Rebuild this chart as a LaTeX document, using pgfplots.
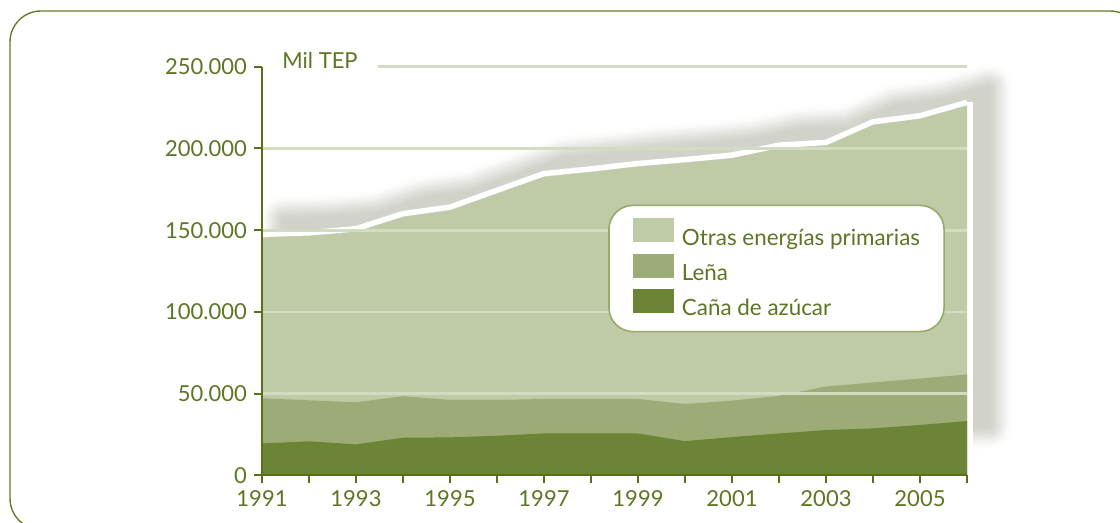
\documentclass[border=0pt]{standalone}
\usepackage{fontspec}
\setmainfont{Lato}
\usepackage{pgfplots}
\pgfplotsset{compat=1.18}
\usepackage{pgfplotstable}

\definecolor{darkc}{RGB}{107,132,54}
\definecolor{midc}{RGB}{157,172,118}
\definecolor{lightc}{RGB}{191,202,166}
\definecolor{gridc}{RGB}{210,220,192}
\definecolor{axisc}{RGB}{88,112,24}
\definecolor{textc}{RGB}{92,118,36}
\definecolor{framec}{RGB}{100,125,40}
\definecolor{legc}{RGB}{150,170,105}
\definecolor{shadowcore}{RGB}{209,211,203}

\pgfplotstableread{
year cana lena otras
1991 19600 27600 98400
1992 20900 25100 100400
1993 19000 25800 104100
1994 23100 25400 109600
1995 23300 22900 115900
1996 24300 21900 126200
1997 25700 21100 135800
1998 25700 21100 138700
1999 25700 21100 142000
2000 21000 22700 147500
2001 23500 22300 148100
2002 25700 23000 151300
2003 27800 26600 147300
2004 28800 28100 157400
2005 30900 28400 158700
2006 33300 28500 164400
}\datatable

% one layer of the soft shadow: #1 = stroke width (pt), #2 = percent of shadow colour
\newcommand{\shadowlayer}[2]{%
  \addplot[forget plot, fill=shadowcore!#2!white, draw=shadowcore!#2!white,
    line width=#1pt, line join=round, xshift=11pt, yshift=9pt]
    table[x=year, y expr=\thisrow{cana}+\thisrow{lena}+\thisrow{otras}] {\datatable}
    -- (axis cs:2006,19500) -- (axis cs:1991,19500) -- cycle;
}

\begin{document}
\begin{tikzpicture}
\useasboundingbox (0,0) rectangle (560pt,261.5pt);
\draw[framec, line width=0.7pt, rounded corners=15.5pt] (5pt,256pt) rectangle (570.5pt,-3.25pt);
\begin{axis}[
  at={(131pt,23.75pt)}, anchor=south west,
  scale only axis, width=352.5pt, height=204.4pt,
  xmin=1991, xmax=2006, ymin=0, ymax=250000,
  clip=false,
  axis on top,
  axis x line*=bottom, axis y line*=left,
  axis line style={-, axisc, line width=1pt},
  tick align=outside, tick pos=left,
  major tick length=4pt,
  every tick/.style={axisc, line width=1pt},
  xtick={1991,1992,1993,1994,1995,1996,1997,1998,1999,2000,2001,2002,2003,2004,2005,2006},
  xticklabels={1991,,1993,,1995,,1997,,1999,,2001,,2003,,2005,},
  ytick={50000,100000,150000,200000},
  extra y ticks={0,250000},
  extra y tick style={grid=none},
  ymajorgrids,
  major grid style={gridc, line width=1.3pt},
  scaled y ticks=false,
  ticklabel style={font=\fontsize{11}{13}\selectfont, text=textc},
  /pgf/number format/fixed,
  /pgf/number format/1000 sep={.},
  /pgf/number format/assume math mode=true,
  legend style={
    at={(0.491,0.6626)}, anchor=north west,
    draw=legc, line width=0.8pt, fill=white, rounded corners=12pt,
    inner xsep=12pt, inner ysep=6.5pt,
    row sep=2.8pt, column sep=4pt,
    font=\fontsize{11.2}{13}\selectfont, text=textc,
    nodes={inner sep=0pt},
  },
  legend cell align=left,
  legend image code/.code={\fill[#1, sharp corners] (0pt,-2pt) rectangle (20.5pt,10pt);},
]
% soft shadow: opaque layers, widest/lightest first
\shadowlayer{24}{2}
\shadowlayer{22}{6}
\shadowlayer{20}{13}
\shadowlayer{18}{23}
\shadowlayer{16}{33}
\shadowlayer{14}{44}
\shadowlayer{12}{56}
\shadowlayer{10}{67}
\shadowlayer{8}{77}
\shadowlayer{6}{86}
\shadowlayer{4}{94}
\shadowlayer{2}{98}
\shadowlayer{0}{100}
% white outline
\addplot[forget plot, white, line width=2.75pt, line join=round]
  table[x=year, y expr=\thisrow{cana}+\thisrow{lena}+\thisrow{otras}+2000] {\datatable};
\addplot[forget plot, white, line width=2.75pt] coordinates {(2006.065,228200) (2006.065,0)};
% areas
\addplot[draw=none, fill=lightc]
  table[x=year, y expr=\thisrow{cana}+\thisrow{lena}+\thisrow{otras}] {\datatable} \closedcycle;
\addplot[draw=none, fill=midc]
  table[x=year, y expr=\thisrow{cana}+\thisrow{lena}] {\datatable} \closedcycle;
\addplot[draw=none, fill=darkc]
  table[x=year, y=cana] {\datatable} \closedcycle;
\draw[gridc, line width=1.3pt] (axis cs:1993.47,250000) -- (axis cs:2006,250000);
\legend{Otras energías primarias, Leña, Caña de azúcar}
\end{axis}
\node[anchor=base west, text=textc, font=\fontsize{11}{13}\selectfont, inner sep=0pt] at (141pt,227pt) {Mil TEP};
\end{tikzpicture}
\end{document}
